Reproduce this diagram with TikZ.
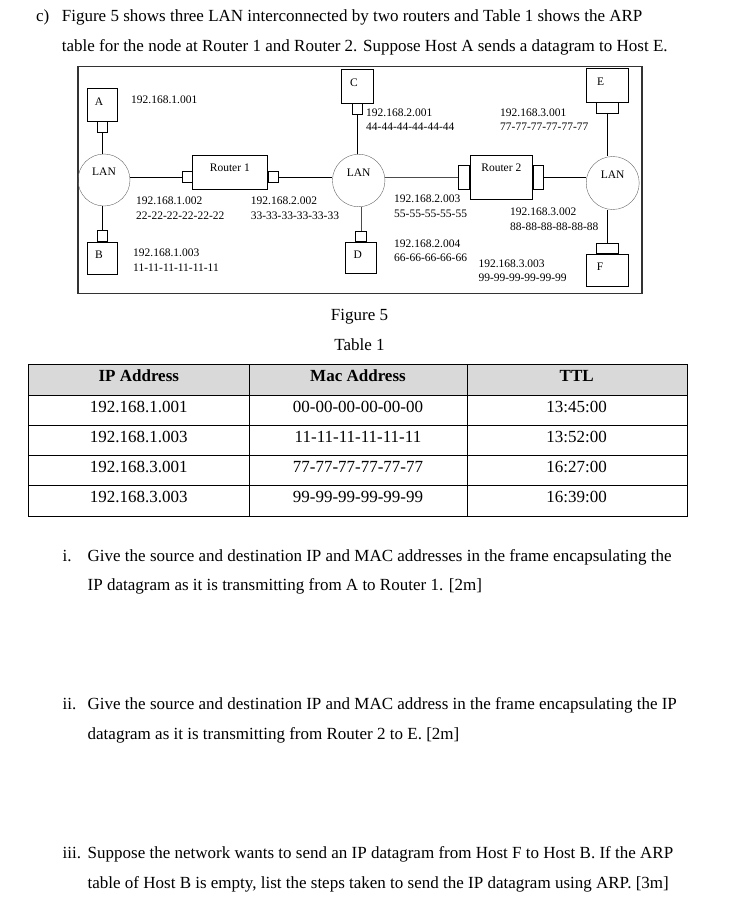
\documentclass[tikz,border=0pt]{standalone}
\usepackage{fontspec}
\setmainfont{Liberation Serif}
\usetikzlibrary{positioning}
\newcommand{\netfont}{\fontsize{11.5}{14.5}\selectfont}
\newcommand{\pagefont}{\fontsize{17}{20}\selectfont}

\begin{document}
\begin{tikzpicture}[x=1pt,y=-1pt,
host/.style={draw, minimum width=30pt, minimum height=33pt, inner sep=0pt},
hostlbl/.style={font=\netfont, inner sep=0pt, xshift=-3pt, yshift=3pt},
port/.style={draw, minimum width=10pt, minimum height=11pt, inner sep=0pt},
wideport/.style={draw, minimum width=21.6pt, minimum height=10.6pt, inner sep=0pt},
tallport/.style={draw, minimum width=11.7pt, minimum height=23.3pt, inner sep=0pt},
lan/.style={draw=black!60, circle, minimum size=52pt, inner sep=0pt},
lanlbl/.style={font=\netfont, inner sep=0pt, yshift=8pt},
router/.style={draw, inner sep=0pt},
rlbl/.style={font=\netfont, inner sep=0pt, anchor=north, yshift=-9pt},
addr/.style={font=\netfont, align=left, anchor=north west, inner sep=0pt},
para/.style={font=\pagefont, anchor=base west, inner sep=0pt},
cell/.style={font=\pagefont, anchor=base, inner sep=0pt}]
\useasboundingbox (0,0) rectangle (733,897);
\node (cmark) [para] at (36,21.5) {c)};
\node (intro1) [para] at (61.7,21.5) {Figure 5 shows three LAN interconnected by two routers and Table 1 shows the ARP};
\node (intro2) [para] at (61.7,51) {table for the node at Router 1 and Router 2. Suppose Host A sends a datagram to Host E.};

% figure 5
\draw [black!80, line width=1.2pt] (78,66.5) rectangle (642,293.5);
\node (hA) [host, label={[hostlbl]center:A}] at (102,104.5) {};
\node (pA) [port, below=0pt of hA] {};
\node (hB) [host, minimum height=32.6pt, label={[hostlbl]center:B}] at (102,258) {};
\node (pB) [port, above=0pt of hB] {};
\node (hC) [host, minimum width=32.6pt, minimum height=33.4pt, label={[hostlbl]center:C}] at (357,86) {};
\node (pC) [port, below=0pt of hC] {};
\node (hD) [host, minimum width=31.7pt, minimum height=31.6pt, label={[hostlbl]center:D}] at (360.8,257.5) {};
\node (pD) [port, minimum width=11.7pt, minimum height=10pt, above=0pt of hD] {};
\node (hE) [host, minimum width=42.3pt, minimum height=33.4pt, label={[hostlbl, xshift=-3.5pt]center:E}] at (607.1,85) {};
\node (pE) [wideport, below=0pt of hE] {};
\node (hF) [host, minimum width=42.3pt, minimum height=32.7pt, label={[hostlbl, xshift=-4pt, yshift=1pt]center:F}] at (607.1,270.3) {};
\node (pF) [wideport, above=0pt of hF] {};

\node (lan1) [lan, label={[lanlbl]center:LAN}] at (104,180) {};
\node (lan2) [lan, minimum size=52.5pt, label={[lanlbl]center:LAN}] at (358.7,180.5) {};
\node (lan3) [lan, minimum size=53pt, label={[lanlbl]center:LAN}] at (612.7,183) {};

\node (r1) [router, minimum width=75pt, minimum height=34pt, label={[rlbl]north:Router 1}] at (229.8,172) {};
\node (r1l) [port, minimum height=11.3pt, anchor=east] at ([yshift=-4.7pt]r1.west) {};
\node (r1r) [port, minimum width=10.4pt, minimum height=11.3pt, anchor=west] at ([yshift=-4.7pt]r1.east) {};
\node (r2) [router, minimum width=62.7pt, minimum height=44.3pt, label={[rlbl]north:Router 2}] at (501.3,177.2) {};
\node (r2l) [tallport, anchor=east] at (r2.west) {};
\node (r2r) [tallport, minimum width=10.6pt, anchor=west] at (r2.east) {};

\draw (pA) -- (pA |- lan1.north);
\draw (pB |- lan1.south) -- (pB);
\draw (lan1.east |- r1l) -- (r1l);
\draw (r1r) -- (r1r -| lan2.west);
\draw (pC) -- (pC |- lan2.north);
\draw [black!70] (pD |- lan2.south) -- (pD);
\draw [black!70] (lan2.east |- r2l) -- (r2l);
\draw (r2r) -- (r2r -| lan3.west);
\draw (pE) -- (pE |- lan3.north);
\draw (pF |- lan3.south) -- (pF);

\node (ipA) [addr] at (131,96.1) {192.168.1.001};
\node (ipR1a) [addr] at (136,197.1) {192.168.1.002\\22-22-22-22-22-22};
\node (ipB) [addr] at (133,248.8) {192.168.1.003\\11-11-11-11-11-11};
\node (ipR1b) [addr] at (250.7,197.1) {192.168.2.002\\33-33-33-33-33-33};
\node (ipC) [addr] at (366,108.4) {192.168.2.001\\44-44-44-44-44-44};
\node (ipR2a) [addr] at (394,195.1) {192.168.2.003\\55-55-55-55-55};
\node (ipD) [addr] at (394,239.4) {192.168.2.004\\66-66-66-66-66};
\node (ipE) [addr] at (500,108.4) {192.168.3.001\\77-77-77-77-77-77};
\node (ipR2b) [addr] at (510,207.8) {192.168.3.002\\88-88-88-88-88-88};
\node (ipF) [addr] at (478.3,259.4) {192.168.3.003\\99-99-99-99-99-99};

\node (figcap) [cell] at (359.5,320) {Figure 5};
\node (tabcap) [cell] at (359.5,350) {Table 1};

% table 1
\fill [black!15] (28.3,364.3) rectangle (686.7,395);
\draw (28.3,364.3) rectangle (686.7,516);
\draw (28.3,395) -- (686.7,395);
\draw (28.3,425) -- (686.7,425);
\draw (28.3,455) -- (686.7,455);
\draw (28.3,485) -- (686.7,485);
\draw (249.3,364.3) -- (249.3,516);
\draw (466.7,364.3) -- (466.7,516);
\node (hip) [cell, font=\pagefont\bfseries] at (138.8,381.4) {IP Address};
\node (hmac) [cell, font=\pagefont\bfseries] at (358,381.4) {Mac Address};
\node (httl) [cell, font=\pagefont\bfseries] at (576.7,381.4) {TTL};
\node (ip1) [cell] at (138.8,412.4) {192.168.1.001};
\node (mac1) [cell] at (358,412.4) {00-00-00-00-00-00};
\node (ttl1) [cell] at (576.7,412.4) {13:45:00};
\node (ip2) [cell] at (138.8,442.4) {192.168.1.003};
\node (mac2) [cell] at (358,442.4) {11-11-11-11-11-11};
\node (ttl2) [cell] at (576.7,442.4) {13:52:00};
\node (ip3) [cell] at (138.8,472.4) {192.168.3.001};
\node (mac3) [cell] at (358,472.4) {77-77-77-77-77-77};
\node (ttl3) [cell] at (576.7,472.4) {16:27:00};
\node (ip4) [cell] at (138.8,502.4) {192.168.3.003};
\node (mac4) [cell] at (358,502.4) {99-99-99-99-99-99};
\node (ttl4) [cell] at (576.7,502.4) {16:39:00};

% questions
\node (qi) [para] at (62.5,561.5) {i.};
\node (qia) [para] at (87.5,561.5) {Give the source and destination IP and MAC addresses in the frame encapsulating the};
\node (qib) [para] at (87.5,590.5) {IP datagram as it is transmitting from A to Router 1. [2m]};
\node (qii) [para] at (62.5,709.5) {ii.};
\node (qiia) [para] at (87.5,709.5) {Give the source and destination IP and MAC address in the frame encapsulating the IP};
\node (qiib) [para] at (87.5,739.5) {datagram as it is transmitting from Router 2 to E. [2m]};
\node (qiii) [para] at (62.5,858.5) {iii.};
\node (qiiia) [para] at (87.5,858.5) {Suppose the network wants to send an IP datagram from Host F to Host B. If the ARP};
\node (qiiib) [para] at (87.5,888.5) {table of Host B is empty, list the steps taken to send the IP datagram using ARP. [3m]};
\end{tikzpicture}
\end{document}
